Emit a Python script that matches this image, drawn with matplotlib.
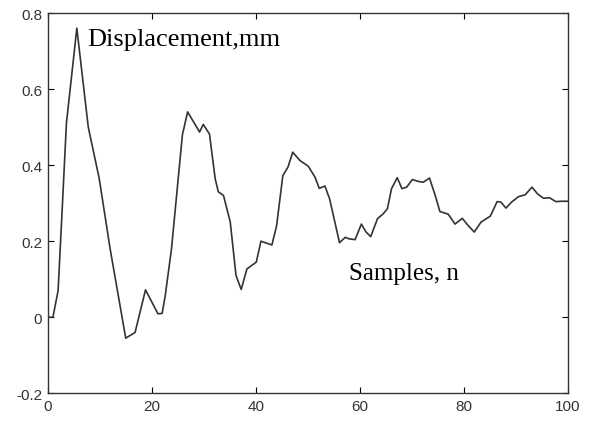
import matplotlib
matplotlib.use('Agg')
import matplotlib.pyplot as plt

# kink points
samples = [0, 1, 2, 2.7, 3.6, 5.6, 7.8, 9.9, 12, 15.0, 16.8, 18.8, 21.2, 22, 22.6,
           23.8, 25.9, 26.9, 29.2, 29.9, 31.1, 32.2, 32.8, 33.8, 35.1, 36.2, 37.2,
           38.3, 40.1, 41.0, 43.1, 44, 45.2, 46.2, 47.1, 48.5, 50.1, 51.4, 52.2,
           53.3, 54.2, 56.1, 57.2, 58, 59.1, 60.3, 61.2, 62.1, 63.4, 64.5, 65.3,
           66.1, 67.2, 68.1, 69.0, 70.1, 71.3, 72.2, 73.4, 74.5, 75.4, 77.0, 78.3,
           79.7, 80.9, 82.0, 83.3, 85.1, 86.4, 87.1, 88.1, 89.2, 90.5, 91.8, 93.1,
           94.2, 95.3, 96.5, 97.7, 98.8, 100]
displacement = [0.0, 0.0, 0.07, 0.26, 0.51, 0.76, 0.50, 0.365, 0.18, -0.055, -0.04,
                0.072, 0.009, 0.01, 0.057, 0.18, 0.48, 0.54, 0.487, 0.507, 0.482,
                0.364, 0.33, 0.32, 0.25, 0.11, 0.073, 0.127, 0.145, 0.2, 0.19, 0.24,
                0.372, 0.395, 0.434, 0.412, 0.397, 0.368, 0.339, 0.345, 0.311, 0.196,
                0.21, 0.206, 0.204, 0.245, 0.224, 0.212, 0.259, 0.272, 0.285, 0.338,
                0.367, 0.338, 0.342, 0.362, 0.357, 0.355, 0.366, 0.32, 0.278, 0.271,
                0.245, 0.26, 0.24, 0.224, 0.25, 0.266, 0.304, 0.303, 0.287, 0.303,
                0.317, 0.322, 0.342, 0.324, 0.313, 0.314, 0.304, 0.305, 0.305]

xticks = [0, 20, 40, 60, 80, 100]
yticks = [-0.2, 0, 0.2, 0.4, 0.6, 0.8]
ylabels = ['-0.2', '0', '0.2', '0.4', '0.6', '0.8']

fig = plt.figure(figsize=(5.94, 4.27), dpi=100)
ax = fig.add_axes([0.0803, 0.0766, 0.8757, 0.8906])

ax.plot(samples, displacement, color='#333333', lw=1.2)

ax.set_xlim(0, 100)
ax.set_ylim(-0.2, 0.8)
ax.set_xticks(xticks)
ax.set_xticklabels([str(t) for t in xticks])
ax.set_yticks(yticks)
ax.set_yticklabels(ylabels)
ax.tick_params(direction='in', length=4, width=0.8, top=True, right=True,
               labelsize=11, labelcolor='#333333', pad=4)
for lab in ax.get_xticklabels() + ax.get_yticklabels():
    lab.set_family('Liberation Sans')
for s in ax.spines.values():
    s.set_color('#333333')
    s.set_linewidth(1.0)

ax.text(7.6, 0.717, 'Displacement,mm', family='Liberation Serif', fontsize=19,
        va='baseline', ha='left')
ax.text(58.0, 0.1, 'Samples, n', family='Liberation Serif', fontsize=18,
        va='baseline', ha='left')

fig.savefig('out.png', dpi=100)
